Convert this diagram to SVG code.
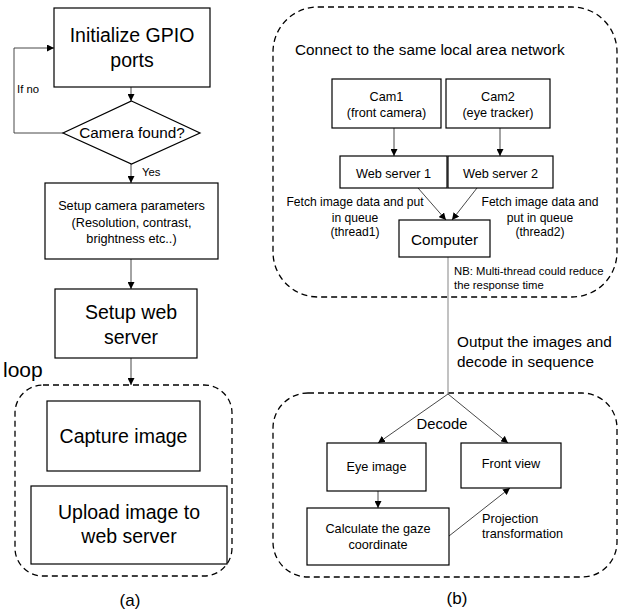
<svg xmlns="http://www.w3.org/2000/svg" width="621" height="613" viewBox="0 0 621 613">
<defs>
<marker id="ah" viewBox="0 0 10 10" refX="10" refY="5" markerWidth="7" markerHeight="7" markerUnits="userSpaceOnUse" orient="auto">
<path d="M0,0 L10,5 L0,10 z" fill="#000"/>
</marker>
</defs>
<style>
text{font-family:"Liberation Sans",Arial,sans-serif;fill:#000}
.box{fill:#fff;stroke:#000;stroke-width:1.2}
.dash{fill:none;stroke:#000;stroke-width:1.3;stroke-dasharray:6,4}
.c{fill:none;stroke:#333;stroke-width:0.9;marker-end:url(#ah)}
.g{fill:none;stroke:#999;stroke-width:1.2}
.L{font-size:19.5px}
.M{font-size:15.3px}
.S{font-size:12.7px}
.T{font-size:11.3px}
</style>
<rect width="621" height="613" fill="#fff"/>
<g id="loop-container"><rect class="dash" x="15" y="385" width="217" height="191" rx="28"/></g>
<g id="lan-container"><rect class="dash" x="273" y="7" width="344" height="290" rx="45"/></g>
<g id="decode-container"><rect class="dash" x="273" y="393" width="344" height="184" rx="35"/></g>
<g id="connectors">
<line class="c" x1="131" y1="87" x2="131" y2="101"/>
<polyline class="c" points="63,133 14,133 14,48 54,48"/>
<line class="c" x1="131" y1="164" x2="131" y2="183"/>
<line class="c" x1="131" y1="259" x2="131" y2="289"/>
<line class="c" x1="131" y1="358" x2="131" y2="385"/>
<line class="c" x1="394" y1="128" x2="394" y2="156"/>
<line class="c" x1="500" y1="128" x2="500" y2="156"/>
<line class="c" x1="418" y1="188" x2="446" y2="220"/>
<line class="c" x1="477" y1="188" x2="452" y2="220"/>
<line class="g" x1="448" y1="257" x2="448" y2="394"/>
<line class="c" x1="448" y1="394" x2="378" y2="443"/>
<line class="c" x1="448" y1="394" x2="508" y2="443"/>
<line class="c" x1="378" y1="491" x2="378" y2="508"/>
<line class="c" x1="449" y1="536" x2="510" y2="488"/>
</g>
<g id="init-gpio"><rect class="box" x="54" y="8" width="156" height="79"/>
<text class="L" x="132" y="42" text-anchor="middle">Initialize GPIO</text>
<text class="L" x="132" y="67" text-anchor="middle">ports</text></g>
<g id="camera-found"><polygon class="box" points="131.5,101 200,133 131.5,164 63,133"/>
<text class="M" x="132" y="138" text-anchor="middle">Camera found?</text></g>
<text class="T" x="17" y="93">If no</text>
<text class="T" x="142" y="176">Yes</text>
<g id="setup-camera"><rect class="box" x="45" y="183" width="173" height="76"/>
<text class="S" x="131.5" y="210" text-anchor="middle">Setup camera parameters</text>
<text class="S" x="131.5" y="227" text-anchor="middle">(Resolution, contrast,</text>
<text class="S" x="131.5" y="243" text-anchor="middle">brightness etc..)</text></g>
<g id="setup-web"><rect class="box" x="55" y="289" width="142" height="69"/>
<text class="L" x="131" y="319" text-anchor="middle">Setup web</text>
<text class="L" x="131" y="344" text-anchor="middle">server</text></g>
<text x="3" y="377" style="font-size:21px">loop</text>
<g id="capture"><rect class="box" x="47" y="401" width="153" height="70"/>
<text class="L" x="123.5" y="443" text-anchor="middle">Capture image</text></g>
<g id="upload"><rect class="box" x="31" y="486" width="196" height="78"/>
<text class="L" x="129" y="519" text-anchor="middle">Upload image to</text>
<text class="L" x="129" y="543" text-anchor="middle">web server</text></g>
<text x="130" y="606" text-anchor="middle" style="font-size:17px">(a)</text>
<text class="M" x="295" y="55">Connect to the same local area network</text>
<g id="cam1"><rect class="box" x="332" y="79" width="109" height="49"/>
<text class="S" x="386.5" y="101" text-anchor="middle">Cam1</text>
<text class="S" x="386.5" y="117" text-anchor="middle">(front camera)</text></g>
<g id="cam2"><rect class="box" x="446" y="79" width="104" height="49"/>
<text class="S" x="498" y="101" text-anchor="middle">Cam2</text>
<text class="S" x="498" y="117" text-anchor="middle">(eye tracker)</text></g>
<g id="ws1"><rect class="box" x="340" y="156" width="107" height="32"/>
<text class="S" x="393.5" y="178" text-anchor="middle">Web server 1</text></g>
<g id="ws2"><rect class="box" x="448" y="156" width="105" height="32"/>
<text class="S" x="500.5" y="178" text-anchor="middle">Web server 2</text></g>
<g id="computer"><rect class="box" x="399" y="220" width="91" height="37"/>
<text class="M" x="444.5" y="245" text-anchor="middle">Computer</text></g>
<text x="355" y="206" text-anchor="middle" style="font-size:12.1px">Fetch image data and put</text>
<text x="355" y="222" text-anchor="middle" style="font-size:12.1px">in queue</text>
<text x="355" y="236" text-anchor="middle" style="font-size:12.1px">(thread1)</text>
<text x="540" y="206" text-anchor="middle" style="font-size:12.1px">Fetch image data and</text>
<text x="540" y="222" text-anchor="middle" style="font-size:12.1px">put in queue</text>
<text x="540" y="236" text-anchor="middle" style="font-size:12.1px">(thread2)</text>
<text class="T" x="454" y="275">NB: Multi-thread could reduce</text>
<text class="T" x="454" y="289">the response time</text>
<text class="M" x="457" y="347">Output the images and</text>
<text class="M" x="457" y="367">decode in sequence</text>
<text x="442" y="429" text-anchor="middle" style="font-size:14.8px">Decode</text>
<g id="eye-image"><rect class="box" x="327" y="443" width="99" height="48"/>
<text class="S" x="376.5" y="471" text-anchor="middle">Eye image</text></g>
<g id="front-view"><rect class="box" x="461" y="443" width="100" height="45"/>
<text class="S" x="511" y="468" text-anchor="middle">Front view</text></g>
<g id="calc-gaze"><rect class="box" x="307" y="508" width="142" height="57"/>
<text class="S" x="378" y="533" text-anchor="middle">Calculate the gaze</text>
<text class="S" x="378" y="549" text-anchor="middle">coordinate</text></g>
<text class="S" x="482" y="523">Projection</text>
<text class="S" x="482" y="538">transformation</text>
<text x="457" y="604" text-anchor="middle" style="font-size:17px">(b)</text>
</svg>
